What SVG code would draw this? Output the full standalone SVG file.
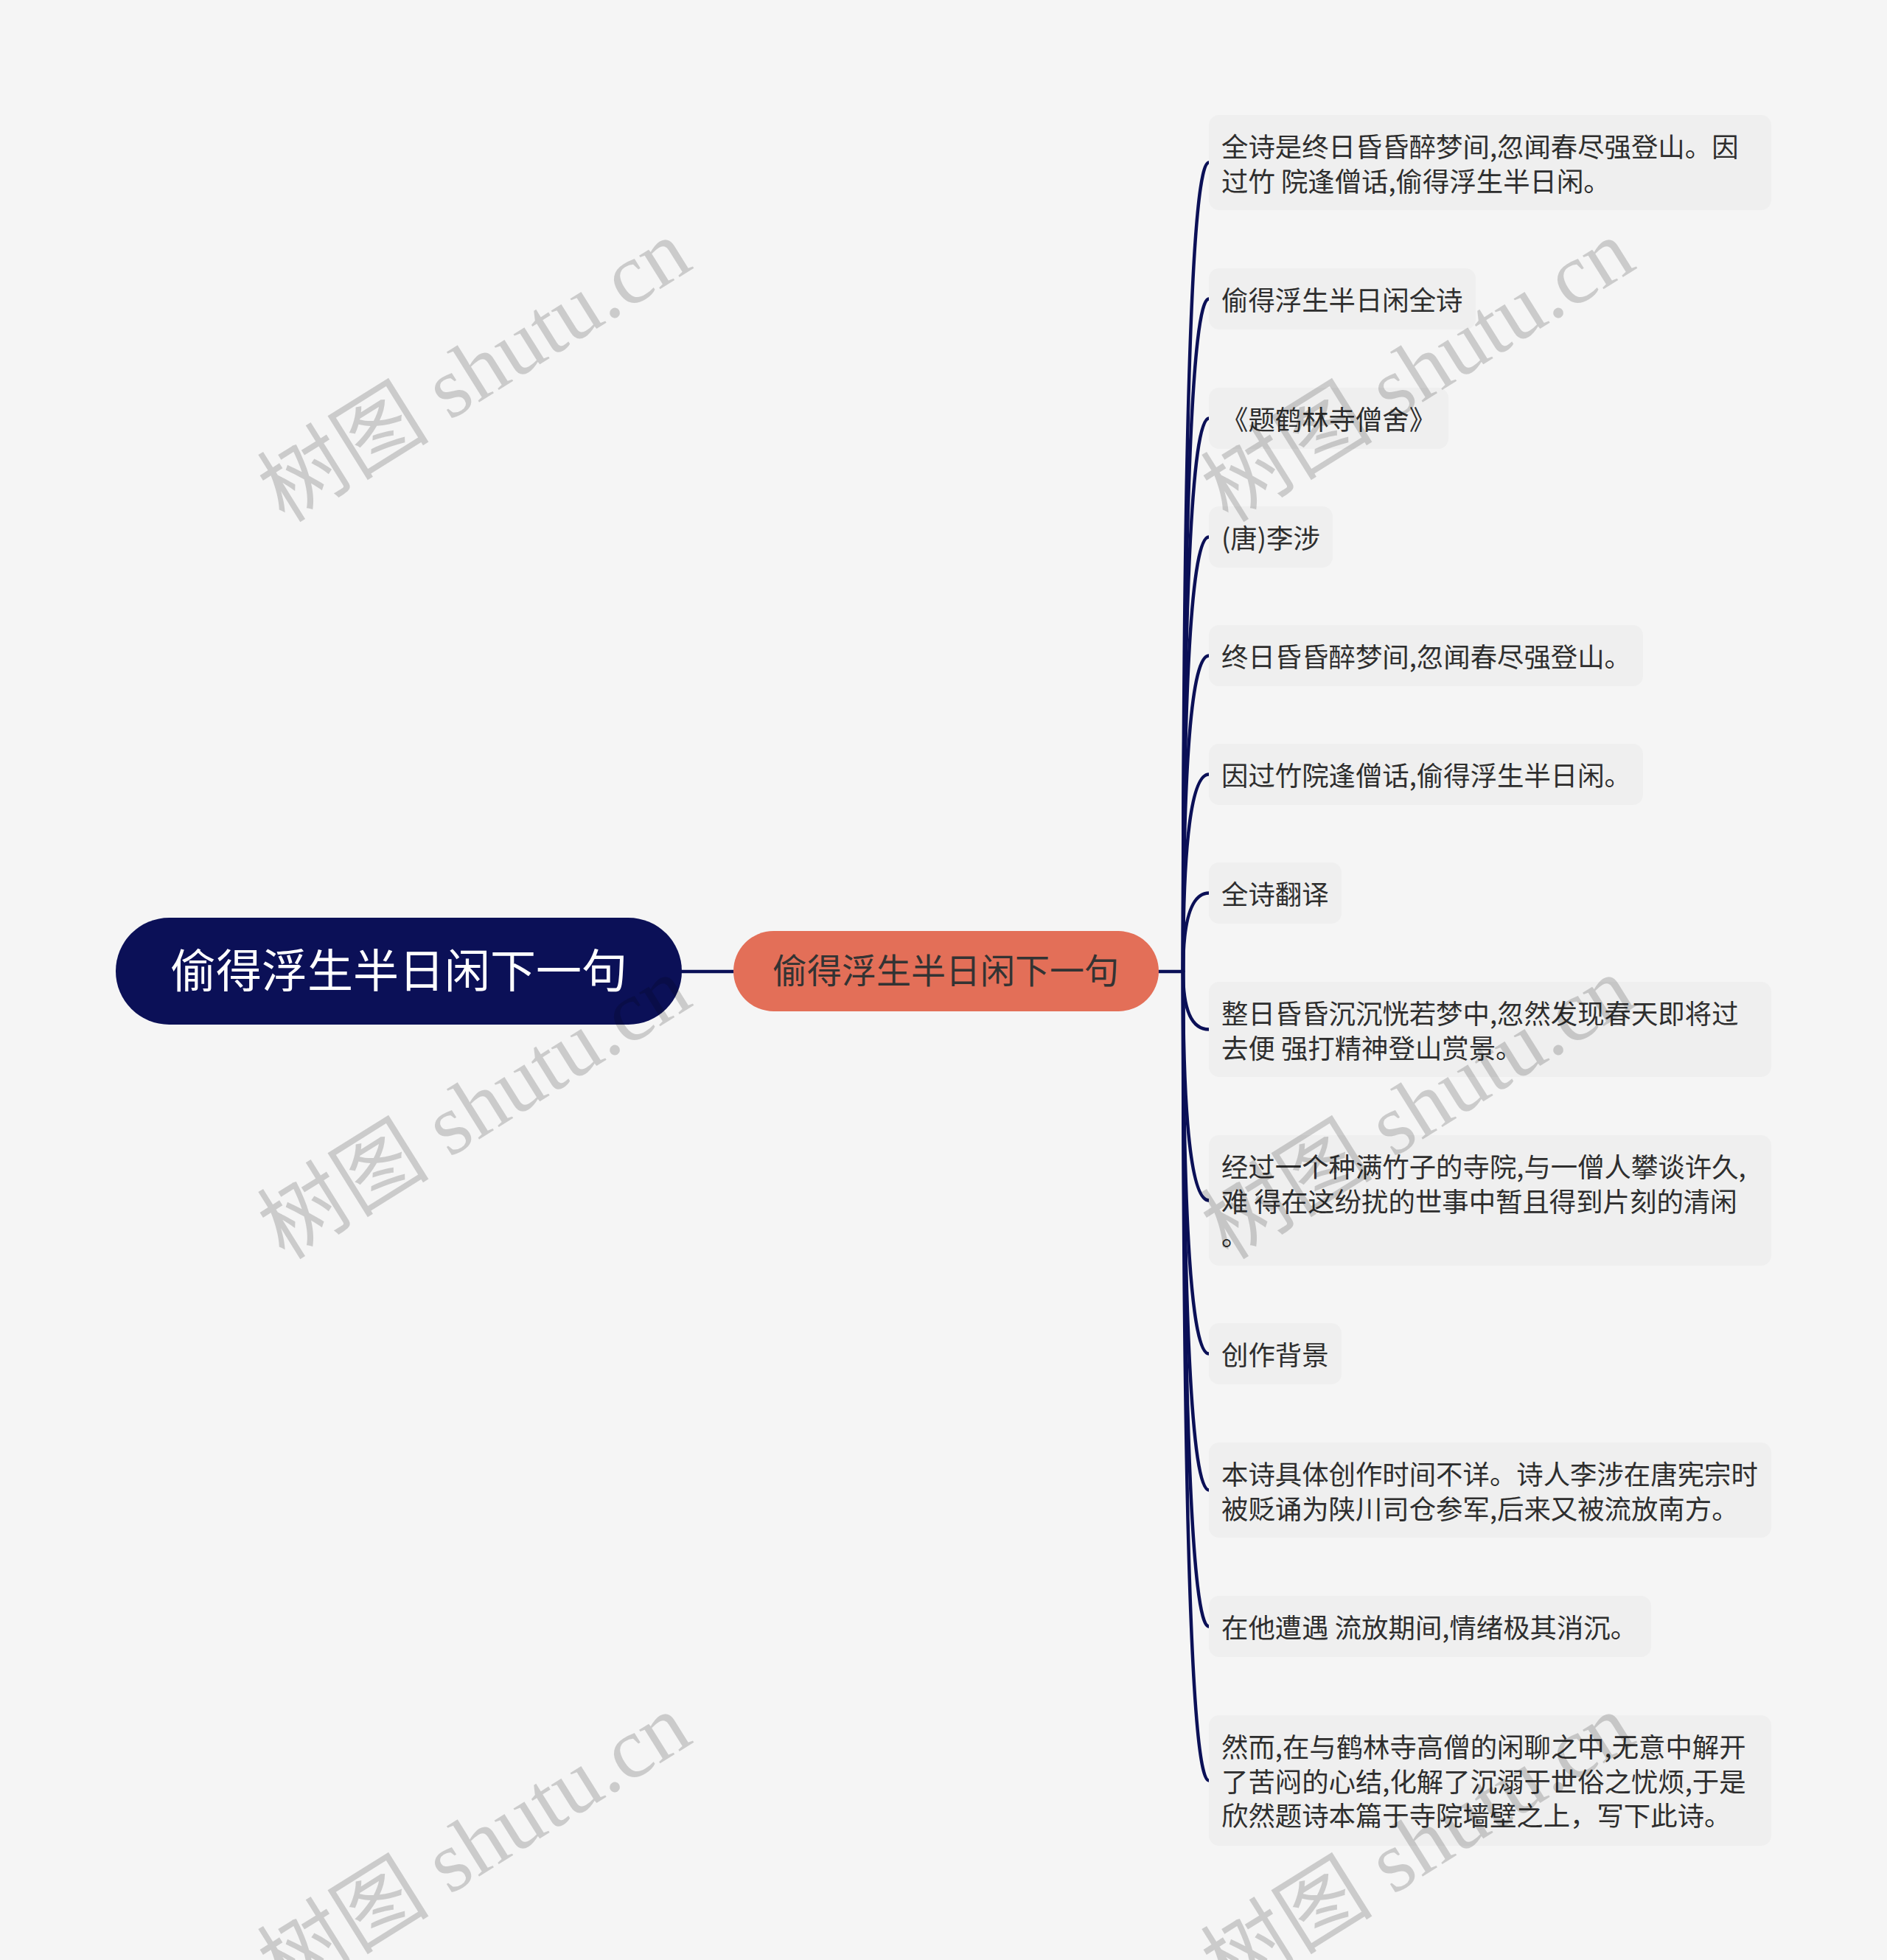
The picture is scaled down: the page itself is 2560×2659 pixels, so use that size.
<svg xmlns="http://www.w3.org/2000/svg" width="2560" height="2659" viewBox="0 0 2560 2659">
<style>
.bg{fill:#f5f5f5}
.leaf rect{fill:#efefef}
.leaf text{font-family:"Noto Sans CJK SC","Noto Sans",sans-serif;font-size:36.4px;fill:#2e2e2e;white-space:pre}
.conn path{fill:none;stroke:#0b1057;stroke-width:4.5;stroke-linecap:round}
.wm{font-family:"Liberation Serif","Noto Sans CJK SC",serif;font-size:117px;fill:#000;fill-opacity:0.17;text-anchor:middle}
</style>
<rect class="bg" x="0" y="0" width="2560" height="2659"/>
<g id="connectors" class="conn">
<path d="M925 1318 H995"/>
<path d="M1572 1318 H1605"/>
<path d="M1605 1318 Q1605 220.5 1640 220.5"/>
<path d="M1605 1318 Q1605 405.5 1640 405.5"/>
<path d="M1605 1318 Q1605 567.5 1640 567.5"/>
<path d="M1605 1318 Q1605 728.5 1640 728.5"/>
<path d="M1605 1318 Q1605 889.5 1640 889.5"/>
<path d="M1605 1318 Q1605 1050.5 1640 1050.5"/>
<path d="M1605 1318 Q1605 1211.5 1640 1211.5"/>
<path d="M1605 1318 Q1605 1396.5 1640 1396.5"/>
<path d="M1605 1318 Q1605 1628.5 1640 1628.5"/>
<path d="M1605 1318 Q1605 1836.5 1640 1836.5"/>
<path d="M1605 1318 Q1605 2021.5 1640 2021.5"/>
<path d="M1605 1318 Q1605 2206.5 1640 2206.5"/>
<path d="M1605 1318 Q1605 2415.5 1640 2415.5"/>
</g>
<g id="root">
<rect x="157" y="1245" width="768" height="145" rx="72.5" fill="#0b1057"/>
<text x="541" y="1340" text-anchor="middle" font-family="'Noto Sans CJK SC','Noto Sans',sans-serif" font-size="62" fill="#ffffff">偷得浮生半日闲下一句</text>
</g>
<g id="center">
<rect x="995" y="1263" width="577" height="109" rx="54.5" fill="#e36f58"/>
<text x="1283" y="1334" text-anchor="middle" font-family="'Noto Sans CJK SC','Noto Sans',sans-serif" font-size="47" fill="#333333">偷得浮生半日闲下一句</text>
</g>
<g id="leaf1" class="leaf"><rect x="1640" y="156" width="763" height="129" rx="14"/><text x="1657" y="213">全诗是终日昏昏醉梦间,忽闻春尽强登山。因</text><text x="1657" y="259.5">过竹 院逢僧话,偷得浮生半日闲。</text></g>
<g id="leaf2" class="leaf"><rect x="1640" y="364" width="362" height="83" rx="14"/><text x="1657" y="421">偷得浮生半日闲全诗</text></g>
<g id="leaf3" class="leaf"><rect x="1640" y="526" width="325" height="83" rx="14"/><text x="1657" y="583">《题鹤林寺僧舍》</text></g>
<g id="leaf4" class="leaf"><rect x="1640" y="687" width="168" height="83" rx="14"/><text x="1657" y="744">(唐)李涉</text></g>
<g id="leaf5" class="leaf"><rect x="1640" y="848" width="589" height="83" rx="14"/><text x="1657" y="905">终日昏昏醉梦间,忽闻春尽强登山。</text></g>
<g id="leaf6" class="leaf"><rect x="1640" y="1009" width="589" height="83" rx="14"/><text x="1657" y="1066">因过竹院逢僧话,偷得浮生半日闲。</text></g>
<g id="leaf7" class="leaf"><rect x="1640" y="1170" width="180" height="83" rx="14"/><text x="1657" y="1227">全诗翻译</text></g>
<g id="leaf8" class="leaf"><rect x="1640" y="1332" width="763" height="129" rx="14"/><text x="1657" y="1389">整日昏昏沉沉恍若梦中,忽然发现春天即将过</text><text x="1657" y="1435.5">去便 强打精神登山赏景。</text></g>
<g id="leaf9" class="leaf"><rect x="1640" y="1540" width="763" height="177" rx="14"/><text x="1657" y="1597">经过一个种满竹子的寺院,与一僧人攀谈许久,</text><text x="1657" y="1643.5">难 得在这纷扰的世事中暂且得到片刻的清闲</text><text x="1657" y="1690">。</text></g>
<g id="leaf10" class="leaf"><rect x="1640" y="1795" width="180" height="83" rx="14"/><text x="1657" y="1852">创作背景</text></g>
<g id="leaf11" class="leaf"><rect x="1640" y="1957" width="763" height="129" rx="14"/><text x="1657" y="2014">本诗具体创作时间不详。诗人李涉在唐宪宗时</text><text x="1657" y="2060.5">被贬诵为陕川司仓参军,后来又被流放南方。</text></g>
<g id="leaf12" class="leaf"><rect x="1640" y="2165" width="600" height="83" rx="14"/><text x="1657" y="2222">在他遭遇 流放期间,情绪极其消沉。</text></g>
<g id="leaf13" class="leaf"><rect x="1640" y="2327" width="763" height="177" rx="14"/><text x="1657" y="2384">然而,在与鹤林寺高僧的闲聊之中,无意中解开</text><text x="1657" y="2430.5">了苦闷的心结,化解了沉溺于世俗之忧烦,于是</text><text x="1657" y="2477">欣然题诗本篇于寺院墙壁之上，写下此诗。</text></g>
<g id="watermarks">
<text class="wm" transform="translate(646,507) rotate(-32)" x="0" y="35">树图 shutu.cn</text>
<text class="wm" transform="translate(1926,507) rotate(-32)" x="0" y="35">树图 shutu.cn</text>
<text class="wm" transform="translate(646,1507) rotate(-32)" x="0" y="35">树图 shutu.cn</text>
<text class="wm" transform="translate(1926,1507) rotate(-32)" x="0" y="35">树图 shutu.cn</text>
<text class="wm" transform="translate(646,2507) rotate(-32)" x="0" y="35">树图 shutu.cn</text>
<text class="wm" transform="translate(1926,2507) rotate(-32)" x="0" y="35">树图 shutu.cn</text>
</g>
</svg>
